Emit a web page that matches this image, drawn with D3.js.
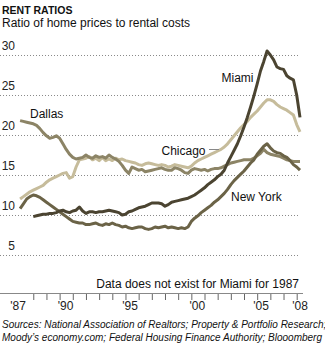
<!DOCTYPE html>
<html>
<head>
<meta charset="utf-8">
<script src="https://cdn.jsdelivr.net/npm/d3@7"></script>
<style>
  body { margin: 0; background: #fff; }
  svg { display: block; font-family: "Liberation Sans", Arial, sans-serif; }
</style>
</head>
<body>
<div id="chart"></div>
<script>
// quarterly values, 1987 Q1 .. 2008 Q2
var quarters = d3.range(86).map(function(i) { return 1987 + i / 4; });

var dallas = [21.8,21.7,21.6,21.5,21.4,21.2,20.8,20.3,19.9,19.6,19.7,19.9,19.6,18.9,18.2,17.6,
  17.2,17.0,17.1,17.2,17.5,17.2,17.1,17.4,17.2,17.3,17.1,17.5,17.2,17.0,16.7,16.2,
  15.6,15.2,16.0,15.8,15.6,15.7,15.4,15.5,15.6,15.7,15.8,15.9,15.7,15.6,15.6,15.9,
  15.8,15.6,15.3,15.2,15.6,15.8,15.7,15.6,15.7,15.5,15.7,15.8,15.8,15.9,16.1,16.3,
  16.5,16.6,16.7,16.8,16.9,16.9,16.9,17.1,17.4,17.7,18.2,17.8,17.6,17.5,17.4,17.3,
  17.1,16.9,16.8,16.7,16.7,16.7];

var chicago = [12.0,12.3,12.6,12.9,13.1,13.3,13.5,13.7,14.1,14.4,14.6,14.8,15.0,15.2,15.3,14.6,
  14.8,16.0,16.9,17.0,17.1,17.3,16.9,17.1,16.8,17.2,16.8,17.0,16.8,17.1,16.9,17.0,
  16.8,16.7,16.6,16.5,16.3,16.2,16.4,16.5,16.4,16.3,16.2,16.3,16.2,16.0,16.1,16.3,
  16.2,16.1,16.0,15.9,16.1,16.5,16.8,17.0,17.2,17.4,17.6,17.8,18.0,18.2,18.5,18.9,
  19.4,19.9,20.4,20.9,21.3,21.7,22.2,22.6,23.0,23.5,24.0,24.4,24.4,24.2,23.8,23.5,
  23.3,23.1,22.8,22.5,21.3,20.4];

var newYork = [10.8,11.4,12.0,12.3,12.5,12.4,12.2,11.9,11.6,11.3,11.0,10.7,10.4,10.1,9.8,9.5,
  9.2,9.1,9.0,9.0,8.8,8.8,8.9,9.0,8.8,8.7,8.9,8.8,9.0,8.8,8.7,8.5,
  8.6,8.4,8.3,8.4,8.5,8.5,8.3,8.2,8.3,8.5,8.4,8.5,8.6,8.4,8.5,8.4,
  8.3,8.4,8.3,8.5,9.2,9.6,9.9,10.3,10.6,10.9,11.2,11.6,11.9,12.3,12.7,13.2,
  13.8,14.3,14.7,15.1,15.5,16.0,16.5,16.9,17.6,18.1,18.6,18.9,18.4,18.0,17.8,17.7,
  17.4,17.2,16.8,16.3,16.0,15.6];

// no Miami data for 1987
var miami = [null,null,null,null,9.8,9.9,10.0,10.1,10.1,10.2,10.2,10.3,10.5,10.6,10.4,10.3,
  10.5,10.6,11.0,10.5,10.2,10.4,10.4,10.3,10.4,10.4,10.5,10.6,10.5,10.4,10.3,10.0,
  10.1,10.4,10.5,10.7,10.9,11.0,11.1,11.3,11.5,11.5,11.5,11.4,11.1,11.3,11.6,11.7,
  11.8,11.9,12.0,12.1,12.3,12.5,12.8,13.1,13.4,13.8,14.1,14.4,14.8,15.1,15.6,16.5,
  17.3,18.1,18.9,19.9,21.0,22.2,23.5,24.9,26.4,28.0,29.2,30.5,30.0,29.4,28.5,28.3,
  28.2,27.4,27.1,26.9,25.0,22.2];

var yTicks = [5, 10, 15, 20, 25, 30];
var xTickYears = d3.range(1988, 2009);
var xLabels = ["'87", "'90", "'95", "'00", "'05", "'08"];
var xLabelPos = [1986.85, 1990.45, 1995.35, 2000.45, 2005.3, 2008.25];

var series = [
  {name: "Chicago", values: chicago, color: "#c6bc9b"},
  {name: "Dallas", values: dallas, color: "#8c8466"},
  {name: "New York", values: newYork, color: "#6b6347"},
  {name: "Miami", values: miami, color: "#4b4431"}
];

var width = 325, height = 349;

var x = d3.scaleLinear().domain([1987, 2008]).range([20.1, 296.7]);
var y = d3.scaleLinear().domain([0, 30]).range([295, 55]);

var svg = d3.select("#chart").append("svg")
  .attr("width", width)
  .attr("height", height);

svg.append("text")
  .attr("x", 2).attr("y", 13.5)
  .style("font-size", "10.5px").style("font-weight", "bold").attr("fill", "#111")
  .text("RENT RATIOS");

svg.append("text")
  .attr("x", 2).attr("y", 27)
  .style("font-size", "12px").attr("fill", "#111")
  .text("Ratio of home prices to rental costs");

// grid
svg.append("g").selectAll("line")
  .data(yTicks)
  .enter().append("line")
  .attr("x1", 0).attr("x2", 300)
  .attr("y1", function(d) { return y(d) + 0.5; })
  .attr("y2", function(d) { return y(d) + 0.5; })
  .attr("stroke", "#8a8a8a")
  .attr("stroke-width", 1)
  .attr("stroke-dasharray", "1,2");

svg.append("g").selectAll("text")
  .data(yTicks)
  .enter().append("text")
  .attr("x", 15)
  .attr("y", function(d) { return y(d) - 5; })
  .attr("text-anchor", "end")
  .style("font-size", "12px").attr("fill", "#222")
  .text(function(d) { return d; });

// x axis
svg.append("line")
  .attr("x1", 0).attr("x2", 303)
  .attr("y1", 293.5).attr("y2", 293.5)
  .attr("stroke", "#888");

var xAxis = svg.append("g")
  .attr("transform", "translate(0,294)")
  .call(d3.axisBottom(x).tickValues(xTickYears).tickSize(6).tickFormat(""));
xAxis.select(".domain").remove();
xAxis.selectAll(".tick line").attr("stroke", "#666");

svg.append("g").selectAll("text")
  .data(xLabels)
  .enter().append("text")
  .attr("x", function(d, i) { return x(xLabelPos[i]); })
  .attr("y", 310)
  .attr("text-anchor", "middle")
  .style("font-size", "12px").attr("fill", "#222")
  .text(function(d) { return d; });

// lines
var line = d3.line()
  .defined(function(d) { return d != null; })
  .x(function(d, i) { return x(quarters[i]); })
  .y(function(d) { return y(d); });

svg.append("g").selectAll("path")
  .data(series)
  .enter().append("path")
  .attr("d", function(d) { return line(d.values); })
  .attr("fill", "none")
  .attr("stroke", function(d) { return d.color; })
  .attr("stroke-width", 3)
  .attr("stroke-linejoin", "round");

// labels
var labels = [
  {text: "Dallas", x: 30, y: 118},
  {text: "Chicago", x: 161.5, y: 154.5},
  {text: "Miami", x: 221.5, y: 81.5},
  {text: "New York", x: 231, y: 201}
];
svg.append("g").selectAll("text")
  .data(labels)
  .enter().append("text")
  .attr("x", function(d) { return d.x; })
  .attr("y", function(d) { return d.y; })
  .style("font-size", "12px").attr("fill", "#111")
  .text(function(d) { return d.text; });

svg.append("line")
  .attr("x1", 209).attr("x2", 219)
  .attr("y1", 149.5).attr("y2", 149.5)
  .attr("stroke", "#888");

svg.append("text")
  .attr("x", 299).attr("y", 288)
  .attr("text-anchor", "end")
  .style("font-size", "12px").attr("fill", "#111")
  .text("Data does not exist for Miami for 1987");

svg.append("text")
  .attr("x", 2).attr("y", 328)
  .style("font-size", "10px").style("font-style", "italic").attr("fill", "#111")
  .text("Sources: National Association of Realtors; Property & Portfolio Research;");
svg.append("text")
  .attr("x", 2).attr("y", 341)
  .style("font-size", "10px").style("font-style", "italic").attr("fill", "#111")
  .text("Moody\u2019s economy.com; Federal Housing Finance Authority; Blooomberg");
</script>
</body>
</html>
